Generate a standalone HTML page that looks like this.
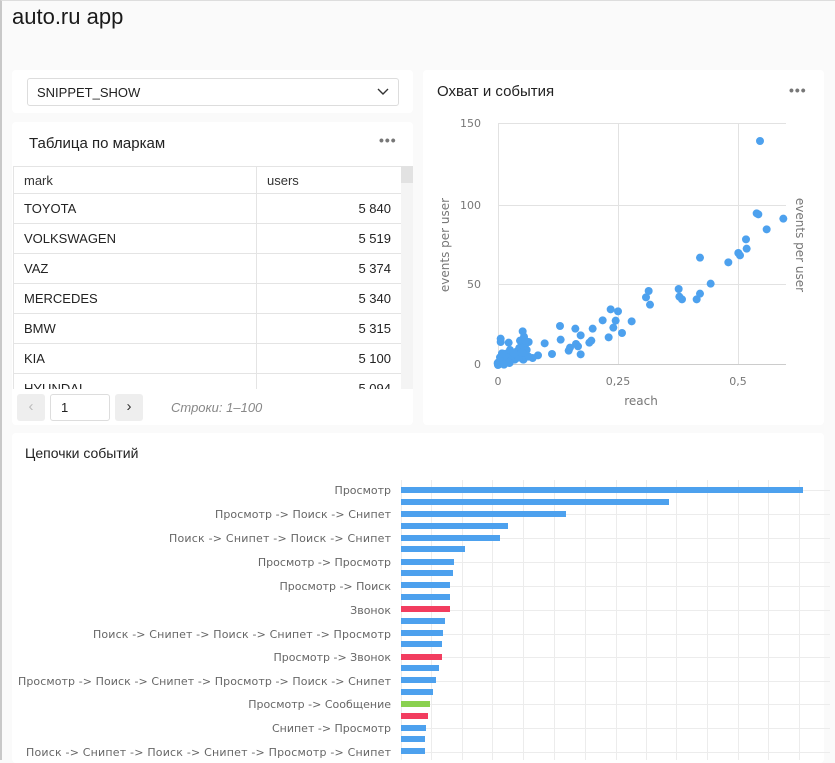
<!DOCTYPE html>
<html><head><meta charset="utf-8"><style>
*{box-sizing:border-box;margin:0;padding:0}
body{width:835px;height:760px;overflow:hidden;background:#fafafa;font-family:"Liberation Sans","DejaVu Sans",sans-serif;position:relative;color:#222}
.frame{position:absolute;left:0;top:0;width:835px;height:760px;border-left:2px solid #c8c8c8;border-top:1px solid #ddd}
.card{position:absolute;background:#fff;border-radius:4px}
.h1{position:absolute;left:12px;top:4px;font-size:22px;color:#1a1a1a}
.title{position:absolute;font-size:15px;color:#222}
.dots{position:absolute;font-size:14px;color:#777;letter-spacing:1px;font-weight:bold}
table{border-collapse:collapse;font-size:13px}
td{border:1px solid #e4e4e4;height:30px;padding:0 10px;color:#222}
</style></head><body>
<div class="frame"></div>
<div class="h1">auto.ru app</div>

<div class="card" style="left:12px;top:70px;width:401px;height:43px">
  <div style="position:absolute;left:15px;top:8px;width:372px;height:28px;border:1px solid #ddd;border-radius:3px;font-size:13px;padding:6px 9px">SNIPPET_SHOW
  <svg style="position:absolute;right:9px;top:9px" width="12" height="8"><path d="M1 1 L6 6 L11 1" stroke="#333" stroke-width="1.4" fill="none"/></svg></div>
</div>

<div class="card" style="left:12px;top:122px;width:401px;height:303px;overflow:hidden">
  <div class="title" style="left:17px;top:13px">Таблица по маркам</div>
  <div class="dots" style="left:367px;top:10px">•••</div>
  <div style="position:absolute;left:1px;top:44px;width:388px;height:223px;overflow:hidden">
  <table style="width:389px">
   <tr><td style="height:27px;width:243px;color:#333">mark</td><td style="height:27px;color:#333">users</td></tr>
   <tr><td>TOYOTA</td><td style="text-align:right">5 840</td></tr>
   <tr><td>VOLKSWAGEN</td><td style="text-align:right">5 519</td></tr>
   <tr><td>VAZ</td><td style="text-align:right">5 374</td></tr>
   <tr><td>MERCEDES</td><td style="text-align:right">5 340</td></tr>
   <tr><td>BMW</td><td style="text-align:right">5 315</td></tr>
   <tr><td>KIA</td><td style="text-align:right">5 100</td></tr>
   <tr><td>HYUNDAI</td><td style="text-align:right">5 094</td></tr>
  </table></div>
  <div style="position:absolute;left:389px;top:44px;width:12px;height:223px;background:#f4f4f4"><div style="height:17px;background:#e2e2e2"></div></div>
  <div style="position:absolute;left:5px;top:272px;width:28px;height:27px;background:#eee;border-radius:3px;color:#bbb;font-size:15px;text-align:center;line-height:26px">‹</div>
  <div style="position:absolute;left:38px;top:272px;width:60px;height:27px;border:1px solid #ddd;border-radius:3px;font-size:13px;padding:5px 10px">1</div>
  <div style="position:absolute;left:103px;top:272px;width:28px;height:27px;background:#eee;border-radius:3px;color:#333;font-size:15px;text-align:center;line-height:26px">›</div>
  <div style="position:absolute;left:159px;top:278px;font-size:13px;font-style:italic;color:#888">Строки: 1–100</div>
</div>

<div class="card" style="left:423px;top:70px;width:401px;height:355px">
  <div class="title" style="left:14px;top:13px">Охват и события</div>
  <div class="dots" style="left:366px;top:12px">•••</div>
</div>

<svg style="position:absolute;left:0;top:0" width="835" height="760">
 <g stroke="#e2e2e2" stroke-width="1">
  <line x1="498" y1="123.5" x2="786" y2="123.5"/><line x1="498" y1="205.5" x2="786" y2="205.5"/>
  <line x1="498" y1="284.5" x2="786" y2="284.5"/><line x1="498" y1="364.5" x2="786" y2="364.5" stroke="#ccc"/>
  <line x1="498.5" y1="123" x2="498.5" y2="364"/><line x1="618.5" y1="123" x2="618.5" y2="364"/><line x1="738.5" y1="123" x2="738.5" y2="364"/>
 </g>
 <g font-family="DejaVu Sans,sans-serif" font-size="11" fill="#777">
  <text x="481" y="127" text-anchor="end">150</text><text x="481" y="209" text-anchor="end">100</text>
  <text x="481" y="288" text-anchor="end">50</text><text x="481" y="368" text-anchor="end">0</text>
  <text x="498" y="385" text-anchor="middle">0</text><text x="618" y="385" text-anchor="middle">0,25</text><text x="738" y="385" text-anchor="middle">0,5</text>
  <text x="641" y="405" text-anchor="middle" font-size="12">reach</text>
  <text transform="translate(449,245) rotate(-90)" text-anchor="middle" font-size="12">events per user</text>
  <text transform="translate(796,245) rotate(90)" text-anchor="middle" font-size="12">events per user</text>
 </g>
 <g fill="#4da1ee" transform="translate(420,70) scale(0.33333)">
  <circle cx="1020" cy="213" r="12"/><circle cx="1010" cy="430" r="12"/><circle cx="1015" cy="433" r="12"/><circle cx="1090" cy="446" r="12"/><circle cx="1040" cy="478" r="12"/><circle cx="978" cy="508" r="12"/><circle cx="980" cy="536" r="12"/><circle cx="955" cy="549" r="12"/><circle cx="960" cy="556" r="12"/><circle cx="840" cy="563" r="12"/><circle cx="925" cy="577" r="12"/><circle cx="872" cy="641" r="12"/><circle cx="776" cy="657" r="12"/><circle cx="778" cy="680" r="12"/><circle cx="786" cy="688" r="12"/><circle cx="830" cy="688" r="12"/><circle cx="840" cy="671" r="12"/><circle cx="686" cy="663" r="12"/><circle cx="678" cy="682" r="12"/><circle cx="690" cy="704" r="12"/><circle cx="572" cy="718" r="12"/><circle cx="594" cy="724" r="12"/><circle cx="548" cy="751" r="12"/><circle cx="587" cy="752" r="12"/><circle cx="635" cy="754" r="12"/><circle cx="580" cy="773" r="12"/><circle cx="606" cy="789" r="12"/><circle cx="566" cy="802" r="12"/><circle cx="420" cy="768" r="12"/><circle cx="466" cy="776" r="12"/><circle cx="518" cy="776" r="12"/><circle cx="482" cy="796" r="12"/><circle cx="422" cy="809" r="12"/><circle cx="514" cy="812" r="12"/><circle cx="508" cy="818" r="12"/><circle cx="468" cy="822" r="12"/><circle cx="474" cy="829" r="12"/><circle cx="450" cy="833" r="12"/><circle cx="446" cy="842" r="12"/><circle cx="482" cy="853" r="12"/><circle cx="374" cy="820" r="12"/><circle cx="396" cy="852" r="12"/><circle cx="354" cy="856" r="12"/><circle cx="338" cy="864" r="12"/><circle cx="308" cy="784" r="12"/><circle cx="312" cy="800" r="12"/><circle cx="326" cy="816" r="12"/><circle cx="266" cy="818" r="12"/><circle cx="242" cy="806" r="12"/><circle cx="242" cy="816" r="12"/>
  <circle cx="236" cy="880" r="15"/><circle cx="250" cy="872" r="15"/><circle cx="262" cy="866" r="15"/><circle cx="276" cy="858" r="15"/><circle cx="290" cy="848" r="15"/><circle cx="300" cy="836" r="15"/><circle cx="312" cy="826" r="15"/><circle cx="258" cy="852" r="13"/><circle cx="284" cy="868" r="13"/><circle cx="310" cy="868" r="13"/><circle cx="326" cy="860" r="12"/><circle cx="240" cy="862" r="12"/><circle cx="234" cy="885" r="12"/><circle cx="300" cy="812" r="12"/><circle cx="320" cy="840" r="12"/><circle cx="270" cy="840" r="12"/><circle cx="246" cy="850" r="12"/><circle cx="268" cy="878" r="13"/><circle cx="296" cy="862" r="13"/><circle cx="252" cy="884" r="12"/><circle cx="282" cy="850" r="13"/><circle cx="306" cy="848" r="13"/><circle cx="316" cy="812" r="12"/>
 </g>
</svg>

<div class="card" style="left:12px;top:433px;width:812px;height:330px">
  <div class="title" style="left:13px;top:12px;font-size:14px">Цепочки событий</div>
</div>
<svg style="position:absolute;left:0;top:0" width="835" height="760">
 <g stroke="#ececec" stroke-width="1">
  <line x1="401.5" y1="480" x2="401.5" y2="760"/><line x1="431.5" y1="480" x2="431.5" y2="760"/><line x1="462.5" y1="480" x2="462.5" y2="760"/><line x1="492.5" y1="480" x2="492.5" y2="760"/><line x1="523.5" y1="480" x2="523.5" y2="760"/><line x1="554.5" y1="480" x2="554.5" y2="760"/><line x1="585.5" y1="480" x2="585.5" y2="760"/><line x1="616.5" y1="480" x2="616.5" y2="760"/><line x1="646.5" y1="480" x2="646.5" y2="760"/><line x1="676.5" y1="480" x2="676.5" y2="760"/><line x1="707.5" y1="480" x2="707.5" y2="760"/><line x1="738.5" y1="480" x2="738.5" y2="760"/><line x1="768.5" y1="480" x2="768.5" y2="760"/><line x1="799.5" y1="480" x2="799.5" y2="760"/>
  <line x1="401" y1="490.5" x2="830" y2="490.5"/><line x1="401" y1="514.5" x2="830" y2="514.5"/><line x1="401" y1="538.5" x2="830" y2="538.5"/><line x1="401" y1="562.5" x2="830" y2="562.5"/><line x1="401" y1="586.5" x2="830" y2="586.5"/><line x1="401" y1="610.5" x2="830" y2="610.5"/><line x1="401" y1="634.5" x2="830" y2="634.5"/><line x1="401" y1="657.5" x2="830" y2="657.5"/><line x1="401" y1="681.5" x2="830" y2="681.5"/><line x1="401" y1="704.5" x2="830" y2="704.5"/><line x1="401" y1="728.5" x2="830" y2="728.5"/><line x1="401" y1="752.5" x2="830" y2="752.5"/>
 </g>
 <g fill="#4da1ee">
  <rect x="401" y="487" width="402" height="6"/><rect x="401" y="499" width="268" height="6"/><rect x="401" y="511" width="165" height="6"/><rect x="401" y="523" width="107" height="6"/><rect x="401" y="535" width="99" height="6"/><rect x="401" y="546" width="64" height="6"/><rect x="401" y="559" width="53" height="6"/><rect x="401" y="570" width="52" height="6"/><rect x="401" y="582" width="49" height="6"/><rect x="401" y="594" width="49" height="6"/>
  <rect x="401" y="606" width="49" height="6" fill="#f23d5f"/>
  <rect x="401" y="618" width="44" height="6"/><rect x="401" y="630" width="42" height="6"/><rect x="401" y="641" width="41" height="6"/>
  <rect x="401" y="654" width="41" height="6" fill="#f23d5f"/>
  <rect x="401" y="665" width="38" height="6"/><rect x="401" y="677" width="35" height="6"/><rect x="401" y="689" width="32" height="6"/>
  <rect x="401" y="701" width="29" height="6" fill="#8ad14f"/>
  <rect x="401" y="713" width="27" height="6" fill="#f23d5f"/>
  <rect x="401" y="725" width="25" height="6"/><rect x="401" y="736" width="24" height="6"/><rect x="401" y="748" width="24" height="6"/>
 </g>
 <g font-family="DejaVu Sans,sans-serif" font-size="11" fill="#666" text-anchor="end">
  <text x="391" y="494">Просмотр</text>
  <text x="391" y="518" textLength="176">Просмотр -&gt; Поиск -&gt; Снипет</text>
  <text x="391" y="542" textLength="222">Поиск -&gt; Снипет -&gt; Поиск -&gt; Снипет</text>
  <text x="391" y="566">Просмотр -&gt; Просмотр</text>
  <text x="391" y="590">Просмотр -&gt; Поиск</text>
  <text x="391" y="614">Звонок</text>
  <text x="391" y="638" textLength="298">Поиск -&gt; Снипет -&gt; Поиск -&gt; Снипет -&gt; Просмотр</text>
  <text x="391" y="661">Просмотр -&gt; Звонок</text>
  <text x="391" y="685" textLength="373">Просмотр -&gt; Поиск -&gt; Снипет -&gt; Просмотр -&gt; Поиск -&gt; Снипет</text>
  <text x="391" y="708">Просмотр -&gt; Сообщение</text>
  <text x="391" y="732">Снипет -&gt; Просмотр</text>
  <text x="391" y="756" textLength="365">Поиск -&gt; Снипет -&gt; Поиск -&gt; Снипет -&gt; Просмотр -&gt; Снипет</text>
 </g>
</svg>
</body></html>
